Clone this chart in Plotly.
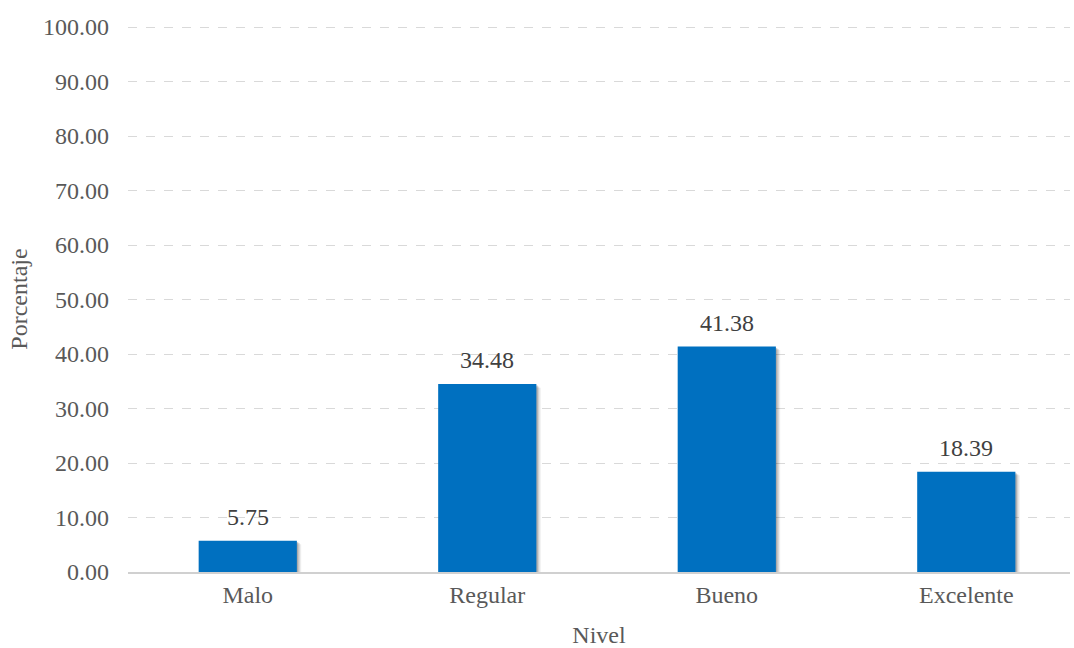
import plotly.graph_objects as go

categorias = ["Malo", "Regular", "Bueno", "Excelente"]
porcentajes = [5.75, 34.48, 41.38, 18.39]
etiquetas = ["5.75", "34.48", "41.38", "18.39"]
ticks_y = [0, 10, 20, 30, 40, 50, 60, 70, 80, 90, 100]
ticks_y_txt = ["%.2f" % t for t in ticks_y]

FONT = "Liberation Serif"
BAR_W = 0.41

fig = go.Figure()
# soft shadow
for dx, dy, a in [(0.006, 0.25, 0.18), (0.012, 0.45, 0.12), (0.018, 0.65, 0.07)]:
    fig.add_trace(go.Bar(
        x=categorias, y=porcentajes, base=[-dy] * len(porcentajes),
        width=BAR_W, offset=-BAR_W / 2 + dx,
        marker=dict(color="rgba(0,0,0,%.2f)" % a, line=dict(width=0)),
        hoverinfo="skip", showlegend=False))
fig.add_trace(go.Bar(
    x=categorias, y=porcentajes, width=BAR_W, offset=-BAR_W / 2,
    marker=dict(color="#0070C0", line=dict(width=0)), showlegend=False))

for c, v, t in zip(categorias, porcentajes, etiquetas):
    fig.add_annotation(x=c, y=v, text=t, showarrow=False, yanchor="bottom",
                       yshift=9, font=dict(family=FONT, size=24, color="#404040"))

fig.update_layout(
    width=1074, height=648, barmode="overlay",
    paper_bgcolor="white", plot_bgcolor="white",
    margin=dict(l=128, r=4, t=26, b=76),
    font=dict(family=FONT, size=24, color="#595959"),
    xaxis=dict(range=[-0.5, 3.433], showgrid=False, showline=True,
               linecolor="#d0d0d0", linewidth=1.5, ticks="",
               tickfont=dict(family=FONT, size=24, color="#595959"),
               title=dict(text="Nivel", font=dict(family=FONT, size=24, color="#595959"), standoff=20)),
    yaxis=dict(range=[0, 100.2], tickvals=ticks_y, ticktext=ticks_y_txt,
               showgrid=True, gridcolor="#d9d9d9", griddash="dash", gridwidth=1,
               zeroline=False, showline=False, ticks="", ticklabelstandoff=18,
               tickfont=dict(family=FONT, size=24, color="#595959"),
               title=dict(text="Porcentaje", font=dict(family=FONT, size=24, color="#595959"), standoff=8)),
)
fig.write_html("out.html")
